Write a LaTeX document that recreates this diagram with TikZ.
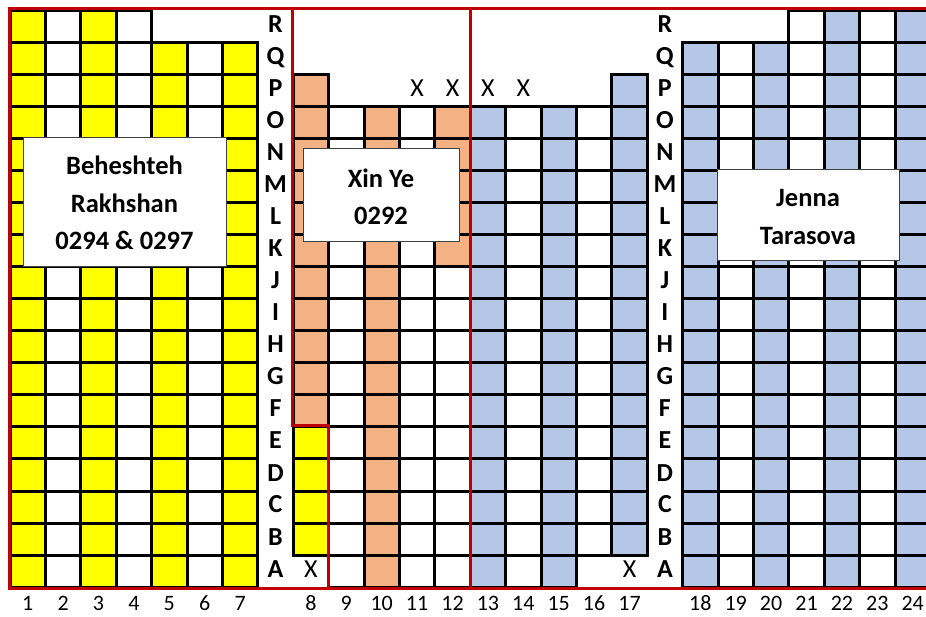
\documentclass[tikz,border=0pt]{standalone}
\usepackage{fontspec}
\setmainfont{Carlito}
\definecolor{seatyellow}{HTML}{FFFF00}
\definecolor{seatorange}{HTML}{F4B183}
\definecolor{seatblue}{HTML}{B4C7E7}
\definecolor{zonered}{HTML}{C00000}
\begin{document}
\begin{tikzpicture}[x=1pt,y=1pt]
\useasboundingbox (0,0) rectangle (926,616);
\clip (0,0) rectangle (926,616);
\def\cw{35.4}
\def\ch{32}
\tikzset{
  cellstyle/.style={},
  redline/.style={draw=zonered,line width=3pt},
  namebox/.style={draw=black!75,line width=1.1pt,fill=white,inner sep=0pt,anchor=south west},
  nametext/.style={font=\fontsize{26.5}{30}\bfseries\selectfont,anchor=base,inner sep=0pt},
  rowlabel/.style={font=\fontsize{26}{28}\bfseries\selectfont,anchor=base,inner sep=0pt},
  colnum/.style={font=\fontsize{22}{24}\selectfont,anchor=base,inner sep=0pt},
  xmark/.style={font=\fontsize{26}{28}\selectfont,anchor=base,inner sep=0pt}
}
\newcommand\cellrun[4]{%
  \foreach \r in {#2,...,#3}{%
    \path[fill=#4,cellstyle] ({10+#1*\cw},{29+\r*\ch}) rectangle ++(\cw,\ch);}}
\newcommand\allcells{%
  % left block, columns 1-7
  \cellrun{0}{0}{17}{seatyellow}
  \cellrun{1}{0}{17}{white}
  \cellrun{2}{0}{17}{seatyellow}
  \cellrun{3}{0}{17}{white}
  \cellrun{4}{0}{16}{seatyellow}
  \cellrun{5}{0}{16}{white}
  \cellrun{6}{0}{16}{seatyellow}
  % column 8
  \cellrun{8}{1}{4}{seatyellow}
  \cellrun{8}{5}{15}{seatorange}
  % columns 9-12
  \cellrun{9}{0}{14}{white}
  \cellrun{10}{0}{14}{seatorange}
  \cellrun{11}{0}{14}{white}
  \cellrun{12}{0}{9}{white}
  \cellrun{12}{10}{14}{seatorange}
  % columns 13-17
  \cellrun{13}{0}{14}{seatblue}
  \cellrun{14}{0}{14}{white}
  \cellrun{15}{0}{14}{seatblue}
  \cellrun{16}{1}{14}{white}
  \cellrun{17}{1}{15}{seatblue}
  % right block, columns 18-24
  \cellrun{19}{0}{16}{seatblue}
  \cellrun{20}{0}{16}{white}
  \cellrun{21}{0}{16}{seatblue}
  \cellrun{22}{0}{17}{white}
  \cellrun{23}{0}{17}{seatblue}
  \cellrun{24}{0}{17}{white}
  \cellrun{25}{0}{17}{seatblue}
}
% pass 1: fills
\allcells
% pass 2: borders
\tikzset{cellstyle/.style={draw=black,line width=3pt,fill=none}}
\allcells

% zone outlines
\draw[redline] (9,28) rectangle (945,607);
\draw[redline] (292,607) -- (292,190) -- (328.6,190) -- (328.6,28);
\draw[redline] (470.2,607) -- (470.2,28);

% name boxes
\node[namebox,minimum width=203pt,minimum height=129pt] (behbox) at (23,349) {};
\node[nametext] (beh1) at (124.5,441) {Beheshteh};
\node[nametext] (beh2) at (124.5,403.3) {Rakhshan};
\node[nametext] (beh3) at (124.5,366.7) {0294 \& 0297};

\node[namebox,minimum width=156pt,minimum height=93pt] (xinbox) at (303,374) {};
\node[nametext] (xin1) at (381,428.7) {Xin Ye};
\node[nametext] (xin2) at (381,391.7) {0292};

\node[namebox,minimum width=182pt,minimum height=91pt] (jenbox) at (717,355) {};
\node[nametext] (jen1) at (808,409.3) {Jenna};
\node[nametext] (jen2) at (808,371.7) {Tarasova};

% row labels
\foreach \L [count=\i from 0] in {A,B,C,D,E,F,G,H,I,J,K,L,M,N,O,P,Q,R}{
  \node[rowlabel] (rowl\i) at ({10+7.5*\cw},{39+\i*\ch}) {\L};
  \node[rowlabel] (rowr\i) at ({10+18.5*\cw},{39+\i*\ch}) {\L};
}

% column numbers
\foreach \n in {1,...,7}{
  \node[colnum] (num\n) at ({10+(\n-0.5)*\cw},6) {\n};
}
\foreach \n in {8,...,17}{
  \node[colnum] (num\n) at ({10+(\n+0.5)*\cw},6) {\n};
}
\foreach \n in {18,...,24}{
  \node[colnum] (num\n) at ({10+(\n+1.5)*\cw},6) {\n};
}

% X marks
\node[xmark] (x11p) at ({10+11.5*\cw},519) {X};
\node[xmark] (x12p) at ({10+12.5*\cw},519) {X};
\node[xmark] (x13p) at ({10+13.5*\cw},519) {X};
\node[xmark] (x14p) at ({10+14.5*\cw},519) {X};
\node[xmark] (x8a) at ({10+8.5*\cw},39) {X};
\node[xmark] (x17a) at ({10+17.5*\cw},39) {X};
\end{tikzpicture}
\end{document}
